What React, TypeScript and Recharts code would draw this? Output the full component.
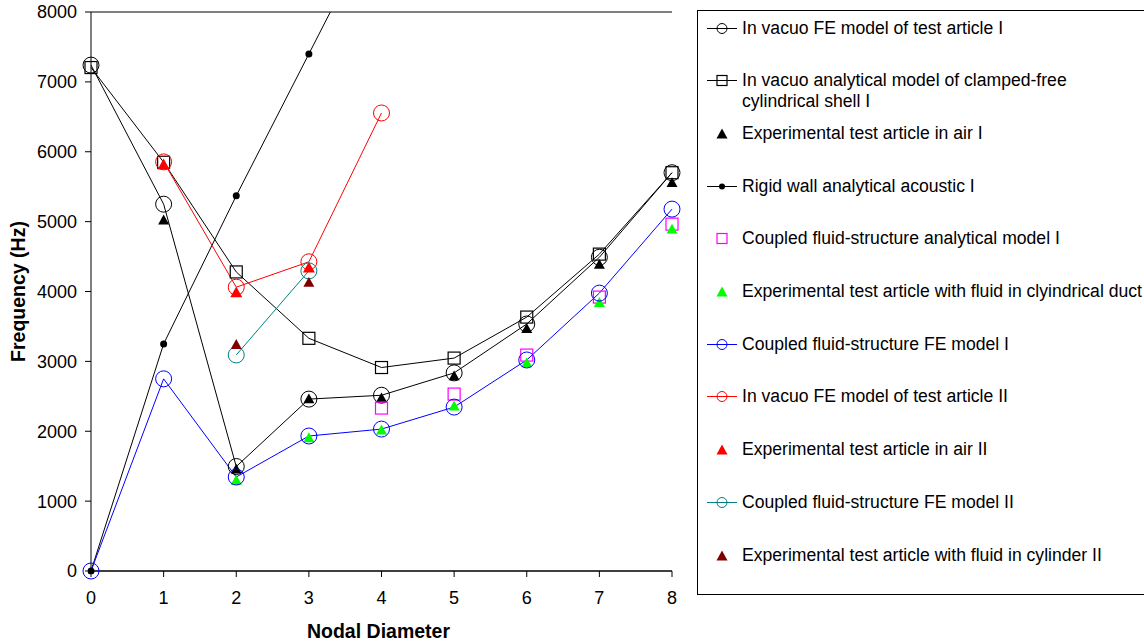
import React from 'react';
import { ComposedChart, Line, XAxis, YAxis, CartesianGrid, ReferenceLine, Legend, Label } from 'recharts';

const FONT = '"Liberation Sans", Arial, Helvetica, sans-serif';

// ---- data ----
const nodalDiameters = [0, 1, 2, 3, 4, 5, 6, 7, 8];
const xTicks = [0, 1, 2, 3, 4, 5, 6, 7, 8];
const yTicks = [0, 1000, 2000, 3000, 4000, 5000, 6000, 7000, 8000];

const inVacuoFE1 = [7240, 5250, 1495, 2460, 2515, 2835, 3535, 4490, 5700];
const inVacuoAnalytical1 = [7205, 5850, 4280, 3330, 2912, 3047, 3634, 4535, 5700];
const expAir1 = [null, 5030, 1465, 2470, 2485, 2800, 3478, 4395, 5565];
const rigidWallDiameters = [0, 1, 2, 3, 4];
const rigidWall1 = [0, 3250, 5370, 7400, 9430];
const coupledAnalytical1 = [null, null, null, null, 2332, 2532, 3090, 3920, 4964];
const expFluidDuct1 = [null, null, 1305, 1915, 2025, 2368, 2985, 3850, 4900];
const coupledFE1 = [0, 2750, 1345, 1932, 2031, 2346, 3020, 3977, 5179];
const inVacuoFE2 = [null, 5855, 4062, 4425, 6555, null, null, null, null];
const expAir2 = [null, 5825, 3995, 4350, null, null, null, null, null];
const coupledFE2 = [null, null, 3092, 4295, null, null, null, null, null];
const expFluidCyl2 = [null, null, 3248, 4138, null, null, null, null, null];

const seriesNames = [
  'In vacuo FE model of test article I',
  'In vacuo analytical model of clamped-free\ncylindrical shell I',
  'Experimental test article in air I',
  'Rigid wall analytical acoustic I',
  'Coupled fluid-structure analytical model I',
  'Experimental test article with fluid in clyindrical duct',
  'Coupled fluid-structure FE model I',
  'In vacuo FE model of test article II',
  'Experimental test article in air II',
  'Coupled fluid-structure FE model II',
  'Experimental test article with fluid in cylinder II',
];

type Shape = 'circle' | 'square' | 'triangle' | 'dot';

interface SeriesDef {
  name: string;
  xs: number[];
  ys: (number | null)[];
  color: string;
  line: boolean;
  shape: Shape;
  size: number;
}

const series: SeriesDef[] = [
  { name: seriesNames[0], xs: nodalDiameters, ys: inVacuoFE1, color: '#000000', line: true, shape: 'circle', size: 8 },
  { name: seriesNames[1], xs: nodalDiameters, ys: inVacuoAnalytical1, color: '#000000', line: true, shape: 'square', size: 12 },
  { name: seriesNames[2], xs: nodalDiameters, ys: expAir1, color: '#000000', line: false, shape: 'triangle', size: 11 },
  { name: seriesNames[3], xs: rigidWallDiameters, ys: rigidWall1, color: '#000000', line: true, shape: 'dot', size: 3.5 },
  { name: seriesNames[4], xs: nodalDiameters, ys: coupledAnalytical1, color: '#FF00FF', line: false, shape: 'square', size: 12 },
  { name: seriesNames[5], xs: nodalDiameters, ys: expFluidDuct1, color: '#00FF00', line: false, shape: 'triangle', size: 11 },
  { name: seriesNames[6], xs: nodalDiameters, ys: coupledFE1, color: '#0000FF', line: true, shape: 'circle', size: 8 },
  { name: seriesNames[7], xs: nodalDiameters, ys: inVacuoFE2, color: '#FF0000', line: true, shape: 'circle', size: 8 },
  { name: seriesNames[8], xs: nodalDiameters, ys: expAir2, color: '#FF0000', line: false, shape: 'triangle', size: 12 },
  { name: seriesNames[9], xs: nodalDiameters, ys: coupledFE2, color: '#008080', line: true, shape: 'circle', size: 8 },
  { name: seriesNames[10], xs: nodalDiameters, ys: expFluidCyl2, color: '#800000', line: false, shape: 'triangle', size: 11 },
];

function toData(s: SeriesDef) {
  return s.xs
    .map((x, i) => ({ x, y: s.ys[i] }))
    .filter((p) => p.y !== null && p.y !== undefined);
}

function Marker({ cx, cy, shape, color, size }: { cx: number; cy: number; shape: Shape; color: string; size: number }) {
  if (cx == null || cy == null || isNaN(cx) || isNaN(cy)) return null;
  if (shape === 'circle') {
    return <circle cx={cx} cy={cy} r={size} fill="none" stroke={color} strokeWidth={1} />;
  }
  if (shape === 'square') {
    return <rect x={cx - size / 2} y={cy - size / 2} width={size} height={size} fill="none" stroke={color} strokeWidth={1.2} />;
  }
  if (shape === 'triangle') {
    const h = size * 0.9;
    return (
      <polygon
        points={`${cx},${cy - h / 2} ${cx + size / 2},${cy + h / 2} ${cx - size / 2},${cy + h / 2}`}
        fill={color}
        stroke="none"
      />
    );
  }
  return <circle cx={cx} cy={cy} r={size} fill={color} stroke="none" />;
}

function LegendBox() {
  return (
    <div
      style={{
        position: 'relative',
        width: 460,
        height: 585,
        border: '1px solid #000',
        boxSizing: 'border-box',
        background: '#fff',
        fontFamily: FONT,
        fontSize: 17.6,
        color: '#000',
      }}
    >
      {series.map((s, i) => {
        const legSize = s.shape === 'circle' ? 5 : s.shape === 'square' ? 10 : s.shape === 'triangle' ? 11 : 3;
        return (
          <div key={i} style={{ position: 'absolute', left: 0, top: 6.5 + i * 52.7, width: 460, height: 42 }}>
            <svg width={40} height={21} style={{ position: 'absolute', left: 0, top: 0 }}>
              {s.line && <line x1={9} y1={10.5} x2={39} y2={10.5} stroke={s.color} strokeWidth={1} />}
              <Marker cx={24} cy={10.5} shape={s.shape} color={s.color} size={legSize} />
            </svg>
            <div style={{ position: 'absolute', left: 44, top: 0, lineHeight: '21px', whiteSpace: 'pre' }}>{s.name}</div>
          </div>
        );
      })}
    </div>
  );
}

export default function App() {
  return (
    <div style={{ position: 'absolute', left: 0, top: 0, width: 1144, height: 643, background: '#fff' }}>
      <ComposedChart
        width={1144}
        height={643}
        margin={{ top: 12, right: 472, bottom: 12, left: 11 }}
        style={{ fontFamily: FONT }}
      >
        <CartesianGrid horizontal vertical={false} stroke="#000" strokeWidth={1} />
        <ReferenceLine x={8} stroke="#808080" strokeWidth={1} />
        <XAxis
          type="number"
          dataKey="x"
          domain={[0, 8]}
          ticks={xTicks}
          height={60}
          tickSize={6}
          tickMargin={14}
          tick={{ fontSize: 18, fill: '#000', fontFamily: FONT }}
          axisLine={{ stroke: '#000' }}
          tickLine={{ stroke: '#000' }}
        >
          <Label
            content={(props: any) => {
              const vb = props.viewBox || { x: 91, y: 571, width: 581, height: 60 };
              return (
                <text
                  x={vb.x + vb.width / 2 - 3}
                  y={vb.y + 67}
                  textAnchor="middle"
                  fontFamily={FONT}
                  fontSize={19.5}
                  fontWeight="bold"
                  fill="#000"
                >
                  Nodal Diameter
                </text>
              );
            }}
          />
        </XAxis>
        <YAxis
          yAxisId="main"
          type="number"
          domain={[0, 8000]}
          ticks={yTicks}
          width={80}
          tickSize={6}
          tickMargin={8}
          tick={{ fontSize: 18, fill: '#000', fontFamily: FONT }}
          axisLine={{ stroke: '#000' }}
          tickLine={{ stroke: '#000' }}
        >
          <Label
            content={(props: any) => {
              const vb = props.viewBox || { x: 11, y: 12, width: 80, height: 559 };
              const cx = vb.x + 7;
              const cy = vb.y + vb.height / 2;
              return (
                <text
                  x={cx}
                  y={cy}
                  transform={`rotate(-90, ${cx}, ${cy})`}
                  textAnchor="middle"
                  dominantBaseline="central"
                  fontFamily={FONT}
                  fontSize={19.5}
                  fontWeight="bold"
                  fill="#000"
                >
                  Frequency (Hz)
                </text>
              );
            }}
          />
        </YAxis>
        <YAxis yAxisId="overflow" type="number" domain={[0, 8000]} allowDataOverflow hide />
        <Legend
          layout="vertical"
          align="center"
          verticalAlign="middle"
          wrapperStyle={{ position: 'absolute', left: 697, top: 10, width: 460, height: 585 }}
          content={() => <LegendBox />}
        />
        {series.map((s, i) =>
          s.shape === 'dot' ? (
            <Line
              key={i}
              yAxisId="overflow"
              name={s.name}
              data={toData(s)}
              dataKey="y"
              type="linear"
              stroke={s.color}
              strokeWidth={1}
              isAnimationActive={false}
              activeDot={false}
              legendType="none"
              dot={{ r: s.size, fill: s.color, stroke: 'none', strokeWidth: 0, clipDot: false }}
            />
          ) : (
            <Line
              key={i}
              yAxisId="main"
              name={s.name}
              data={toData(s)}
              dataKey="y"
              type="linear"
              stroke={s.line ? s.color : 'none'}
              strokeWidth={1}
              isAnimationActive={false}
              activeDot={false}
              legendType="none"
              dot={(p: any) => (
                <Marker key={`m-${i}-${p.index}`} cx={p.cx} cy={p.cy} shape={s.shape} color={s.color} size={s.size} />
              )}
            />
          )
        )}
      </ComposedChart>
    </div>
  );
}
